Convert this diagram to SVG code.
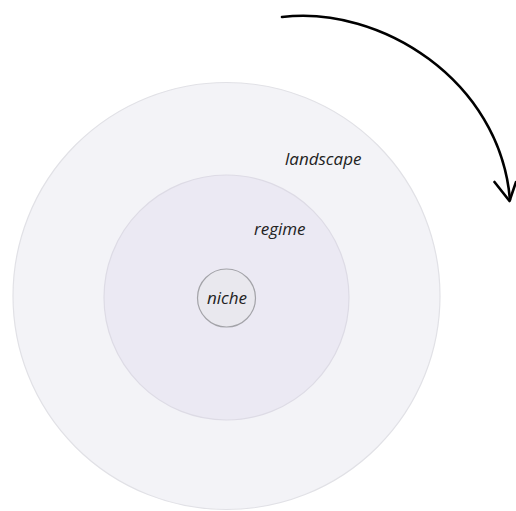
<svg xmlns="http://www.w3.org/2000/svg" width="516" height="511" viewBox="0 0 516 511">
<style>
.lbl{font-family:"Open Sans","Liberation Sans",sans-serif;font-style:italic;font-size:17px;fill:#222;}
.conn{fill:none;stroke:#000;stroke-width:2.6;stroke-linecap:round;stroke-linejoin:round;}
</style>
<rect width="516" height="511" fill="#fff"/>
<g id="landscape">
<circle cx="226.5" cy="296" r="213.5" fill="#f3f3f7" stroke="#e1e1e6" stroke-width="1.2"/>
<text class="lbl" x="285" y="165">landscape</text>
</g>
<g id="regime">
<circle cx="226.5" cy="297.5" r="122.5" fill="#ebe9f3" stroke="#dddbe5" stroke-width="1.2"/>
<text class="lbl" x="254" y="235">regime</text>
</g>
<g id="niche">
<circle cx="226.5" cy="298" r="29" fill="#e9e8ee" stroke="#a3a3a8" stroke-width="1.2"/>
<text class="lbl" x="207" y="303.5">niche</text>
</g>
<g id="connectors">
<path class="conn" d="M282,17 C380,5 500,80 510,200"/>
<path class="conn" d="M494.5,182 L509.5,201 L516,182"/>
</g>
</svg>
